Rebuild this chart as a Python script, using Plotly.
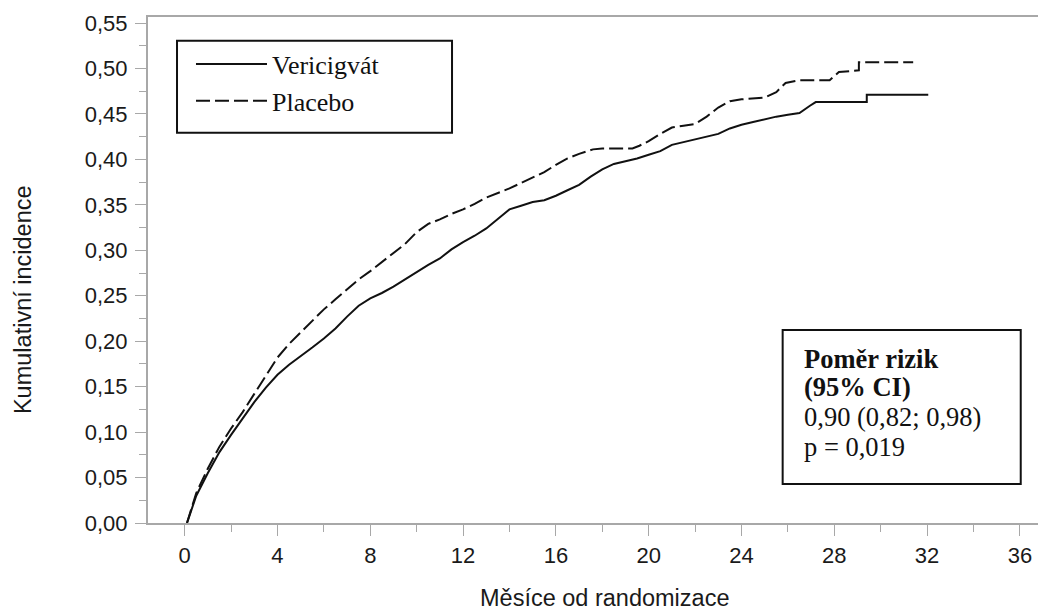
import plotly.graph_objects as go

# ---- data ----
months_veri = [0.1, 0.5, 1.0, 1.5, 2.0, 2.5, 3.0, 3.5, 4.0, 4.5, 5.0, 5.5, 6.0, 6.5, 7.0, 7.5,
               8.0, 8.5, 9.0, 9.5, 10.0, 10.5, 11.0, 11.5, 12.0, 12.5, 13.0, 13.5, 14.0, 14.5,
               15.0, 15.5, 16.0, 16.5, 17.0, 17.5, 18.0, 18.5, 19.0, 19.5, 20.0, 20.5, 21.0,
               21.5, 22.0, 22.5, 23.0, 23.5, 24.0, 24.5, 25.0, 25.5, 26.0, 26.5, 26.95, 27.2,
               29.4, 29.4, 32.05]
inc_veri = [0.0, 0.030, 0.055, 0.078, 0.097, 0.115, 0.133, 0.149, 0.163, 0.174, 0.183, 0.193,
            0.203, 0.214, 0.227, 0.239, 0.247, 0.253, 0.260, 0.268, 0.276, 0.284, 0.291, 0.301,
            0.309, 0.316, 0.324, 0.335, 0.345, 0.349, 0.353, 0.355, 0.360, 0.366, 0.372, 0.381,
            0.389, 0.395, 0.398, 0.401, 0.405, 0.409, 0.416, 0.419, 0.422, 0.425, 0.428, 0.434,
            0.438, 0.441, 0.444, 0.447, 0.449, 0.451, 0.459, 0.463, 0.463, 0.471, 0.471]

months_plac = [0.1, 0.5, 1.0, 1.5, 2.0, 2.5, 3.0, 3.5, 4.0, 4.5, 5.0, 5.5, 6.0, 6.5, 7.0, 7.5,
               8.0, 8.5, 9.0, 9.5, 10.0, 10.5, 11.0, 11.5, 12.0, 12.5, 13.0, 13.5, 14.0, 14.5,
               15.0, 15.5, 16.0, 16.5, 17.0, 17.6, 18.0, 19.3, 19.6, 20.0, 20.5, 21.0, 21.5,
               22.0, 22.5, 23.0, 23.5, 24.0, 25.0, 25.5, 25.9, 26.5, 27.8, 28.2, 29.06, 29.06,
               31.4]
inc_plac = [0.0, 0.033, 0.060, 0.084, 0.104, 0.122, 0.142, 0.162, 0.182, 0.197, 0.210, 0.222,
            0.235, 0.246, 0.257, 0.268, 0.277, 0.287, 0.297, 0.307, 0.320, 0.329, 0.334, 0.340,
            0.345, 0.351, 0.358, 0.363, 0.368, 0.374, 0.380, 0.386, 0.394, 0.401, 0.406, 0.411,
            0.412, 0.412, 0.415, 0.420, 0.428, 0.435, 0.437, 0.439, 0.447, 0.457, 0.464, 0.466,
            0.468, 0.474, 0.484, 0.487, 0.487, 0.496, 0.498, 0.5067, 0.5067]

x_ticks = [0, 4, 8, 12, 16, 20, 24, 28, 32, 36]
y_ticks = [0.00, 0.05, 0.10, 0.15, 0.20, 0.25, 0.30, 0.35, 0.40, 0.45, 0.50, 0.55]
series_names = ["Vericigvát", "Placebo"]
x_title = "Měsíce od randomizace"
y_title = "Kumulativní incidence"
stats_lines = ["<b>Poměr rizik</b>", "<b>(95% CI)</b>", "0,90 (0,82; 0,98)", "p = 0,019"]

AXIS_GRAY = "#a8a8a8"
INK = "#111111"
SERIF = "Liberation Serif, Times New Roman, serif"
SANS = "Liberation Sans, Arial, sans-serif"

fig = go.Figure()
fig.add_trace(go.Scatter(x=months_veri, y=inc_veri, mode="lines", name=series_names[0],
                         line=dict(color=INK, width=2)))
fig.add_trace(go.Scatter(x=months_plac, y=inc_plac, mode="lines", name=series_names[1],
                         line=dict(color=INK, width=2, dash="14px,5px")))

fig.update_layout(
    width=1038, height=614,
    margin=dict(l=148, r=0, t=17, b=91),
    paper_bgcolor="white", plot_bgcolor="white",
    separators=", ",
    showlegend=True,
    legend=dict(x=0.0483, y=0.9536, xanchor="left", yanchor="top",
                bgcolor="rgba(0,0,0,0)", borderwidth=0, itemwidth=71,
                font=dict(family=SERIF, size=26, color=INK), tracegroupgap=0),
    xaxis=dict(range=[-1.58, 36.78], tickvals=x_ticks, showgrid=False, zeroline=False,
               showline=True, linecolor=AXIS_GRAY, linewidth=2, mirror=True,
               ticks="outside", ticklen=11, tickwidth=1, tickcolor=AXIS_GRAY,
               ticklabelstandoff=1,
               minor=dict(dtick=2, tick0=0, ticks="outside", ticklen=7, tickcolor=AXIS_GRAY),
               tickfont=dict(family=SANS, size=22, color="#1a1a1a")),
    yaxis=dict(range=[0, 0.5566], tickvals=y_ticks, tickformat=".2f", showgrid=False,
               zeroline=False, showline=True, linecolor=AXIS_GRAY, linewidth=2,
               ticks="outside", ticklen=11, tickwidth=1, tickcolor=AXIS_GRAY,
               ticklabelstandoff=3,
               minor=dict(dtick=0.025, tick0=0, ticks="outside", ticklen=7, tickcolor=AXIS_GRAY),
               tickfont=dict(family=SANS, size=22, color="#1a1a1a")),
)

# legend frame and statistics frame
fig.add_shape(type="rect", xref="paper", yref="paper", x0=0.0326, x1=0.3416, y0=0.7713, y1=0.9532,
              line=dict(color=INK, width=2), fillcolor="rgba(0,0,0,0)", layer="above")
fig.add_shape(type="rect", xref="paper", yref="paper", x0=0.7131, x1=0.9806, y0=0.0771, y1=0.3814,
              line=dict(color=INK, width=2), fillcolor="white", layer="above")

stat_y = [0.3240, 0.2694, 0.2101, 0.1508]
for txt, yy in zip(stats_lines, stat_y):
    fig.add_annotation(text=txt, xref="paper", yref="paper", x=0.7345, y=yy,
                       xanchor="left", yanchor="middle", showarrow=False,
                       font=dict(family=SERIF, size=26.5, color=INK))

fig.add_annotation(text=x_title, xref="paper", yref="paper", x=0.5124, y=-0.1482,
                   xanchor="center", yanchor="middle", showarrow=False,
                   font=dict(family=SANS, size=23.5, color="#1a1a1a"))
fig.add_annotation(text=y_title, xref="paper", yref="paper", x=-0.1404, y=0.4407,
                   xanchor="center", yanchor="middle", showarrow=False, textangle=-90,
                   font=dict(family=SANS, size=23.5, color="#1a1a1a"))

# remove the default page margin so the 1038x614 figure fills the window exactly
page_fix = ("document.documentElement.style.overflow='hidden';"
            "document.body.style.margin='0';document.body.style.overflow='hidden';")
fig.write_html("out.html", post_script=page_fix, config={"displayModeBar": False})
